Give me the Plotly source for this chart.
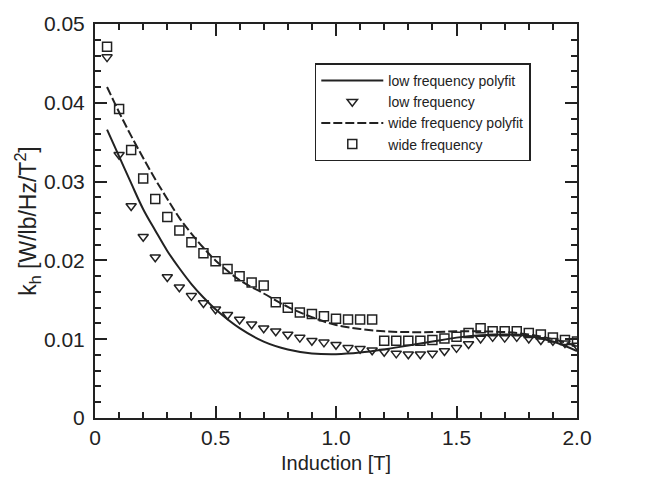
import plotly.graph_objects as go

# Measured data (x in T)
x_pts = [0.05, 0.10, 0.15, 0.20, 0.25, 0.30, 0.35, 0.40, 0.45, 0.50,
         0.55, 0.60, 0.65, 0.70, 0.75, 0.80, 0.85, 0.90, 0.95, 1.00,
         1.05, 1.10, 1.15, 1.20, 1.25, 1.30, 1.35, 1.40, 1.45, 1.50,
         1.55, 1.60, 1.65, 1.70, 1.75, 1.80, 1.85, 1.90, 1.95, 2.00]

low_freq = [0.0458, 0.0334, 0.0269, 0.0230, 0.0204, 0.0179, 0.0166, 0.0155, 0.0146, 0.0138,
            0.0131, 0.0125, 0.0119, 0.0114, 0.0110, 0.0106, 0.0102, 0.0098, 0.0096, 0.0093,
            0.0089, 0.0088, 0.0086, 0.0084, 0.0082, 0.0081, 0.0081, 0.0082, 0.0085, 0.0089,
            0.0094, 0.0101, 0.0103, 0.0102, 0.0103, 0.0101, 0.0099, 0.0098, 0.0095, 0.0092]

wide_freq = [0.0471, 0.0392, 0.0340, 0.0304, 0.0278, 0.0255, 0.0238, 0.0223, 0.0209, 0.0199,
             0.0189, 0.0180, 0.0172, 0.0168, 0.0147, 0.0140, 0.0134, 0.0132, 0.0129, 0.0126,
             0.0125, 0.0125, 0.0125, 0.0098, 0.0098, 0.0098, 0.0098, 0.0099, 0.0101, 0.0103,
             0.0108, 0.0114, 0.0110, 0.0110, 0.0110, 0.0108, 0.0106, 0.0102, 0.0099, 0.0097]

# Polyfit curves
x_fit = [0.05, 0.10, 0.15, 0.20, 0.25, 0.30, 0.35, 0.40, 0.45, 0.50,
         0.60, 0.70, 0.80, 0.90, 1.00, 1.10, 1.20, 1.30, 1.40, 1.50,
         1.60, 1.70, 1.80, 1.90, 2.00]
low_fit = [0.0366, 0.0332, 0.0298, 0.0265, 0.0238, 0.0212, 0.0190, 0.0170, 0.0153, 0.0138,
           0.0114, 0.0097, 0.0087, 0.0082, 0.0081, 0.0083, 0.0087, 0.0092, 0.0097, 0.0102,
           0.0105, 0.0106, 0.0104, 0.0097, 0.0085]
wide_fit = [0.0420, 0.0388, 0.0358, 0.0330, 0.0303, 0.0278, 0.0254, 0.0234, 0.0216, 0.0200,
            0.0175, 0.0158, 0.0141, 0.0128, 0.0118, 0.0113, 0.0110, 0.0109, 0.0109, 0.0110,
            0.0110, 0.0109, 0.0106, 0.0100, 0.0091]

x_tickvals = [0, 0.5, 1.0, 1.5, 2.0]
x_ticktext = ["0", "0.5", "1.0", "1.5", "2.0"]
y_tickvals = [0, 0.01, 0.02, 0.03, 0.04, 0.05]
y_ticktext = ["0", "0.01", "0.02", "0.03", "0.04", "0.05"]

INK = "#222222"
FONT = "Liberation Sans, Arial, sans-serif"

fig = go.Figure()
fig.add_trace(go.Scatter(x=x_fit, y=low_fit, mode="lines", name="low frequency polyfit",
                         line=dict(color=INK, width=2, shape="spline")))
fig.add_trace(go.Scatter(x=x_pts, y=low_freq, mode="markers", name="low frequency",
                         marker=dict(symbol="triangle-down-open", size=9, color=INK,
                                     line=dict(width=1.5, color=INK))))
fig.add_trace(go.Scatter(x=x_fit, y=wide_fit, mode="lines", name="wide frequency polyfit",
                         line=dict(color=INK, width=2, dash="9px,3px", shape="spline")))
fig.add_trace(go.Scatter(x=x_pts, y=wide_freq, mode="markers", name="wide frequency",
                         marker=dict(symbol="square-open", size=9, color=INK,
                                     line=dict(width=1.5, color=INK))))

axis_common = dict(showline=True, linecolor=INK, linewidth=2, mirror="allticks",
                   ticks="inside", ticklen=12, tickwidth=1.5, tickcolor=INK,
                   showgrid=False, zeroline=False,
                   tickfont=dict(family=FONT, size=21, color=INK))

fig.update_xaxes(range=[0, 2.0], tickvals=x_tickvals, ticktext=x_ticktext,
                 minor=dict(ticks="inside", ticklen=6, tickwidth=1.5, tickcolor=INK, dtick=0.1, showgrid=False),
                 title=dict(text="Induction [T]", font=dict(family=FONT, size=20, color=INK), standoff=8),
                 **axis_common)
fig.update_yaxes(range=[0, 0.05], tickvals=y_tickvals, ticktext=y_ticktext,
                 ticklabelstandoff=4,
                 minor=dict(ticks="inside", ticklen=6, tickwidth=1.5, tickcolor=INK, dtick=0.002, showgrid=False),
                 title=dict(text="k<sub>h</sub> [W/lb/Hz/T<sup>2</sup>]", font=dict(family=FONT, size=23, color=INK), standoff=0),
                 **axis_common)

fig.update_layout(
    width=662, height=486,
    margin=dict(l=95, r=85, t=15, b=68),
    paper_bgcolor="white", plot_bgcolor="white",
    font=dict(family=FONT, color=INK),
    legend=dict(x=0.456, y=0.90, xanchor="left", yanchor="top",
                bordercolor=INK, borderwidth=1.5, bgcolor="white",
                font=dict(family=FONT, size=14, color=INK),
                itemwidth=62, tracegroupgap=0),
)

fig.write_html("out.html")
